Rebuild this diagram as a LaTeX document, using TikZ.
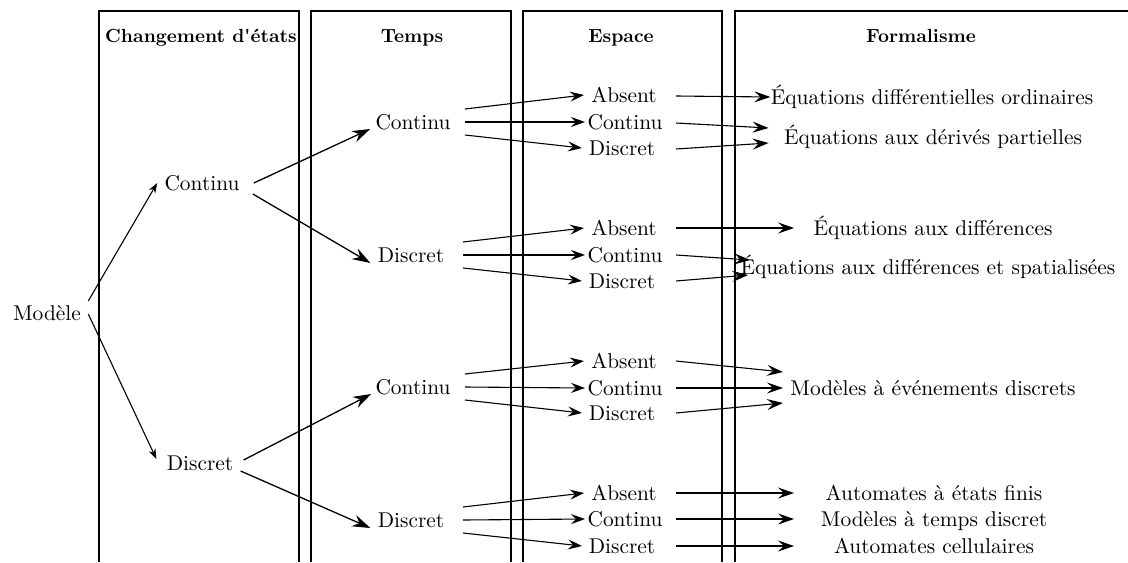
\documentclass[tikz,border=0pt]{standalone}
\usepackage{fontspec}
\usetikzlibrary{arrows.meta,calc}
\begin{document}
\begin{tikzpicture}[x=0.5pt,y=-0.5pt,
  every node/.style={inner sep=0pt, text height=7.2pt, text depth=0pt, font=\fontsize{10.7}{12}\selectfont},
  hdr/.style={font=\fontsize{9.5}{11}\selectfont\bfseries},
  col/.style={line width=0.7pt},
  ln/.style={line width=0.55pt},
  tipA/.style={ln,-{Stealth[length=5pt,width=3.6pt,inset=1.5pt]}},
  tipB/.style={line width=0.65pt,-{Stealth[length=9pt,width=6pt,inset=3pt]}},
  tipC/.style={ln,-{Stealth[length=7pt,width=5pt,inset=2.5pt]}},
  tipD/.style={ln,-{Stealth[length=8pt,width=5.5pt,inset=3pt]}}]
\useasboundingbox (0,0) rectangle (1128,562);
% columns
\draw[col] (99,562) -- (99,11) -- (299,11) -- (299,562);
\draw[col] (311,562) -- (311,11) -- (511,11) -- (511,562);
\draw[col] (523,562) -- (523,11) -- (722,11) -- (722,562);
\draw[col] (735,562) -- (735,11) -- (1140,11);
% headers
\node[hdr] (h1) at (201,35) {Changement d\textquotesingle\'etats};
\node[hdr] (h2) at (412,35) {Temps};
\node[hdr] (h3) at (621,35) {Espace};
\node[hdr] (h4) at (921,35) {Formalisme};
% level 0,1
\node (m) at (47,313) {Mod\`ele};
\node (c1) at (202,183) {Continu};
\node (d1) at (200,463) {Discret};
% level 2
\node (tc1) at (413,122) {Continu};
\node (td1) at (411,255) {Discret};
\node (tc2) at (413,387) {Continu};
\node (td2) at (411,520) {Discret};
% level 3
\node (a1) at (624,95) {Absent};
\node (b1) at (625,122) {Continu};
\node (e1) at (622,148) {Discret};
\node (a2) at (624,228) {Absent};
\node (b2) at (625,255) {Continu};
\node (e2) at (622,281) {Discret};
\node (a3) at (624,361) {Absent};
\node (b3) at (625,388) {Continu};
\node (e3) at (622,413) {Discret};
\node (a4) at (624,493) {Absent};
\node (b4) at (625,519) {Continu};
\node (e4) at (622,546) {Discret};
% formalisms
\node (f1) at (932,97) {\'Equations diff\'erentielles ordinaires};
\node (f2) at (933,137) {\'Equations aux d\'eriv\'es partielles};
\node (f3) at (933,228) {\'Equations aux diff\'erences};
\node (f4) at (928,267) {\'Equations aux diff\'erences et spatialis\'ees};
\node (f5) at (933,388) {Mod\`eles \`a \'ev\'enements discrets};
\node (f6) at (934,493) {Automates \`a \'etats finis};
\node (f7) at (934,519) {Mod\`eles \`a temps discret};
\node (f8) at (934,546) {Automates cellulaires};
% Modele
\draw[tipA] ($(m.east)+(7,-12)$) -- ($(c1.west)+(-7,0)$);
\draw[tipA] ($(m.east)+(7,1)$) -- ($(d1.west)+(-10,-4)$);
% level1 -> level2
\draw[tipB] ($(c1.east)+(14,0)$) -- ($(tc1.west)+(-5,7)$);
\draw[tipB] ($(c1.east)+(13,11)$) -- ($(td1.west)+(-7,8)$);
\draw[tipB] ($(d1.east)+(10,-3)$) -- ($(tc2.west)+(-4,7)$);
\draw[tipB] ($(d1.east)+(7,8)$) -- ($(td2.west)+(-7,8)$);
% level2 -> level3
\foreach \s/\i in {tc1/1,td1/2,tc2/3,td2/4}{
  \draw[tipC] ($(\s.center)+(52,-13)$) -- ($(a\i.center)+(-40,0)$);
  \draw[tipC] ($(\s.center)+(52,0)$) -- ($(b\i.center)+(-40,0)$);
  \draw[tipC] ($(\s.center)+(52,13)$) -- ($(e\i.center)+(-40,0)$);
}
% level3 -> formalisms
\draw[tipD] ($(a1.center)+(52,1)$) -- (f1.west);
\draw[tipD] ($(b1.center)+(51,1)$) -- ($(f2.west)+(-15,-9)$);
\draw[tipD] ($(e1.center)+(54,1)$) -- ($(f2.west)+(-15,6)$);
\draw[tipD] ($(a2.center)+(52,0)$) -- ($(f3.west)+(-19,0)$);
\draw[tipD] ($(b2.center)+(51,0)$) -- ($(f4.west)+(10,-7)$);
\draw[tipD] ($(e2.center)+(54,0)$) -- ($(f4.west)+(8,8)$);
\draw[tipD] ($(a3.center)+(52,0)$) -- ($(f5.west)+(-7,-16)$);
\draw[tipD] ($(b3.center)+(51,0)$) -- ($(f5.west)+(-7,0)$);
\draw[tipD] ($(e3.center)+(54,0)$) -- ($(f5.west)+(-7,15)$);
\draw[tipD] ($(a4.center)+(52,0)$) -- ($(f6.center)+(-140,0)$);
\draw[tipD] ($(b4.center)+(51,0)$) -- ($(f7.center)+(-140,0)$);
\draw[tipD] ($(e4.center)+(54,0)$) -- ($(f8.center)+(-140,0)$);
\end{tikzpicture}
\end{document}
